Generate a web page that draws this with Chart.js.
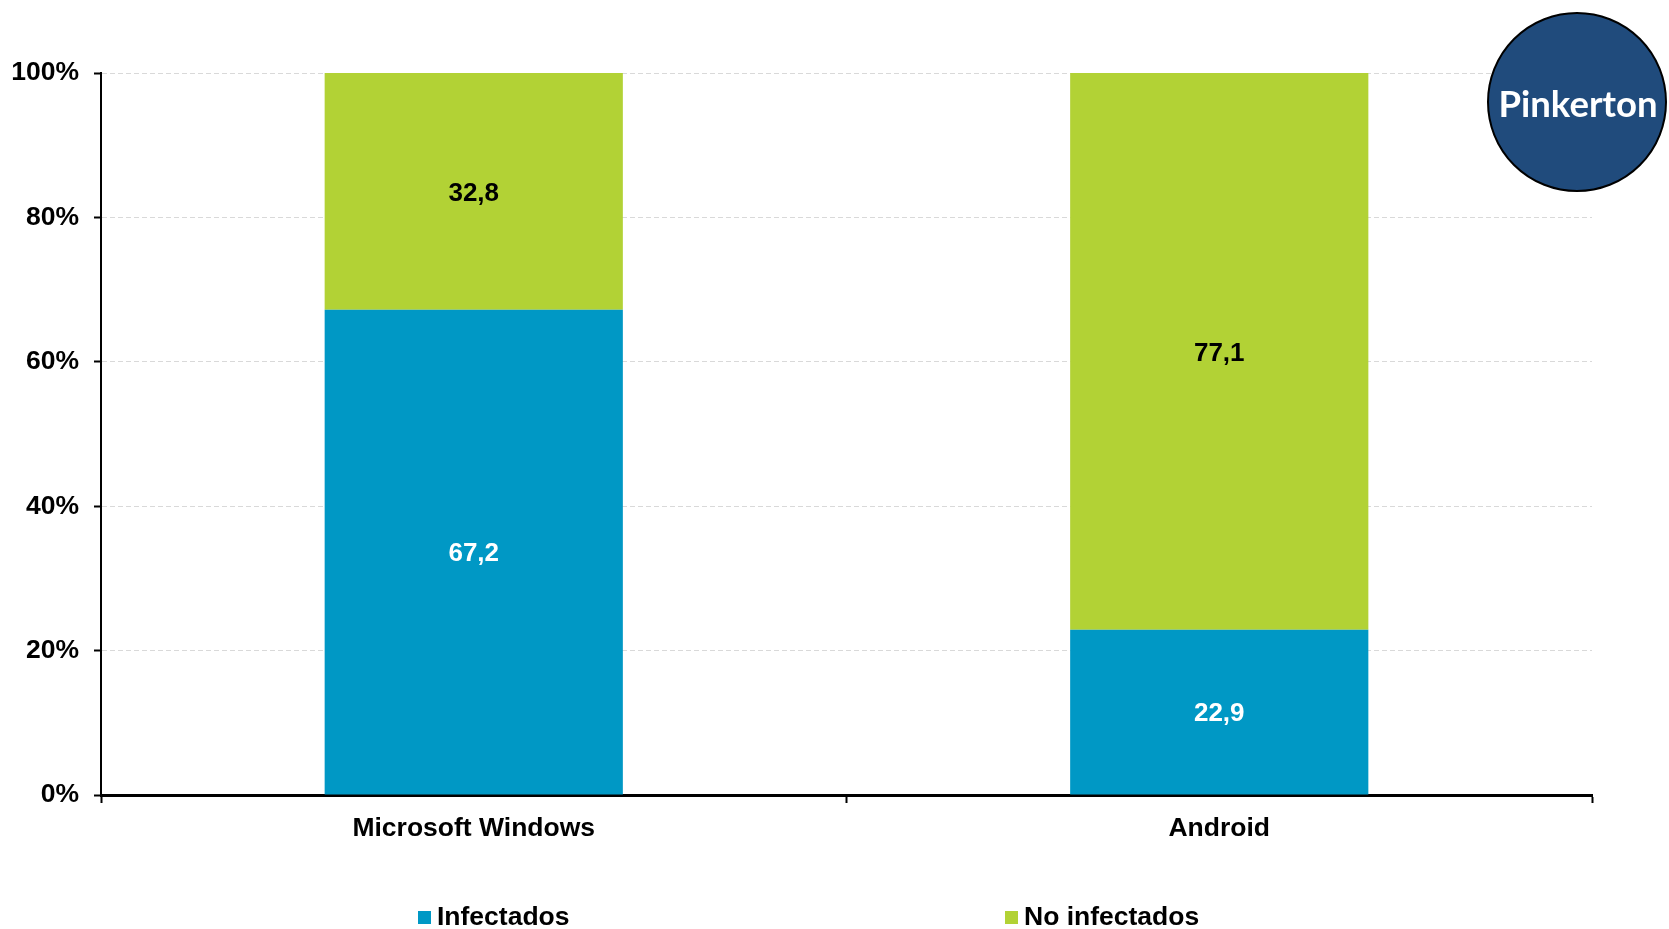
<!DOCTYPE html>
<html>
<head>
<meta charset="utf-8">
<script src="https://cdn.jsdelivr.net/npm/chart.js@4.4.1/dist/chart.umd.min.js"></script>
<style>
  html, body { margin: 0; padding: 0; background: #fff; }
  #wrap { width: 1669px; height: 929px; }
</style>
</head>
<body>
<div id="wrap"><canvas id="chart" width="1669" height="929"></canvas></div>
<script>
// Datos: equipos infectados / no infectados por sistema operativo (%)
const categorias = ['Microsoft Windows', 'Android'];
const infectados = [67.2, 22.9];
const noInfectados = [32.8, 77.1];
const ticksY = [0, 20, 40, 60, 80, 100];
const nombresSeries = ['Infectados', 'No infectados'];

const colorAzul = '#0098C5';
const colorVerde = '#B2D235';
const fuente = "'Liberation Sans', Arial, sans-serif";
const fuenteEjes = { family: fuente, size: 26.5, weight: 'bold' };

// Valores dentro de cada segmento
const etiquetasValores = {
    id: 'etiquetasValores',
    afterDatasetsDraw(chart) {
        const ctx = chart.ctx;
        ctx.save();
        ctx.font = `bold 26px ${fuente}`;
        ctx.textAlign = 'center';
        ctx.textBaseline = 'middle';
        chart.data.datasets.forEach((ds, i) => {
            chart.getDatasetMeta(i).data.forEach((bar, j) => {
                const c = bar.getCenterPoint();
                ctx.fillStyle = ds.labelColor;
                ctx.fillText(ds.data[j].toFixed(1).replace('.', ','), c.x, c.y + 2);
            });
        });
        ctx.restore();
    }
};

// Leyenda abajo, con los elementos muy separados
const leyenda = {
    id: 'leyenda',
    afterDraw(chart) {
        const ctx = chart.ctx;
        const posX = [418, 1005];
        const y = 917;
        ctx.save();
        ctx.font = `bold 26.5px ${fuente}`;
        ctx.textBaseline = 'middle';
        chart.data.datasets.forEach((ds, i) => {
            ctx.fillStyle = ds.backgroundColor;
            ctx.fillRect(posX[i], y - 6, 13, 13);
            ctx.fillStyle = '#000';
            ctx.fillText(ds.label, posX[i] + 19, y + 1);
        });
        ctx.restore();
    }
};

// Logo circular arriba a la derecha
const logo = {
    id: 'logo',
    afterDraw(chart) {
        const ctx = chart.ctx;
        ctx.save();
        ctx.beginPath();
        ctx.arc(1577, 102, 89, 0, Math.PI * 2);
        ctx.fillStyle = '#204B7C';
        ctx.fill();
        ctx.lineWidth = 2;
        ctx.strokeStyle = '#000';
        ctx.stroke();
        ctx.fillStyle = '#fff';
        ctx.font = 'bold 36.5px Lato, sans-serif';
        ctx.textAlign = 'center';
        ctx.fillText('Pinkerton', 1578, 117);
        ctx.restore();
    }
};

new Chart(document.getElementById('chart'), {
    type: 'bar',
    data: {
        labels: categorias,
        datasets: [{
            label: nombresSeries[0],
            data: infectados,
            backgroundColor: colorAzul,
            labelColor: '#fff',
            borderWidth: 0,
            barPercentage: 0.4,
            categoryPercentage: 1
        }, {
            label: nombresSeries[1],
            data: noInfectados,
            backgroundColor: colorVerde,
            labelColor: '#000',
            borderWidth: 0,
            barPercentage: 0.4,
            categoryPercentage: 1
        }]
    },
    options: {
        responsive: false,
        animation: false,
        devicePixelRatio: 1,
        layout: {
            padding: { top: 73, right: 77, left: 0, bottom: 0 }
        },
        plugins: {
            legend: { display: false },
            tooltip: { enabled: false }
        },
        scales: {
            x: {
                stacked: true,
                afterFit(s) { s.height = 134; },
                grid: {
                    drawOnChartArea: false,
                    offset: true,
                    tickColor: '#000',
                    tickLength: 8,
                    tickWidth: 2
                },
                border: { color: '#000', width: 3 },
                ticks: { color: '#000', font: fuenteEjes, padding: 10 }
            },
            y: {
                stacked: true,
                min: 0,
                max: 100,
                afterFit(s) { s.width = 101; },
                afterBuildTicks(s) { s.ticks = ticksY.map(v => ({ value: v })); },
                grid: {
                    color: '#D9D9D9',
                    lineWidth: 1,
                    tickColor: '#000',
                    tickLength: 7,
                    tickWidth: 2
                },
                border: { color: '#000', width: 2, dash: [5, 3] },
                ticks: {
                    color: '#000',
                    font: fuenteEjes,
                    padding: 15,
                    callback: v => v + '%'
                }
            }
        }
    },
    plugins: [etiquetasValores, leyenda, logo]
});
</script>
</body>
</html>
